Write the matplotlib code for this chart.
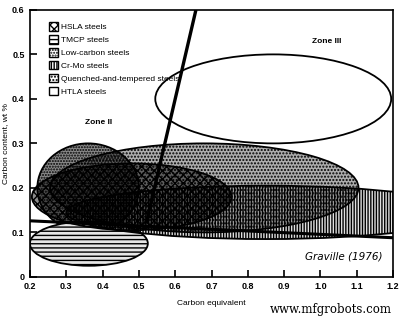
import matplotlib
matplotlib.use("Agg")
import matplotlib.pyplot as plt
from matplotlib.patches import Ellipse, Patch

# steel groups: ellipse centre (CE, C), extent along CE and C
steels = ["HSLA steels", "TMCP steels", "Low-carbon steels", "Cr-Mo steels",
          "Quenched-and-tempered steels", "HTLA steels"]
ce_center = [0.48, 0.362, 0.36, 0.85, 0.68, 0.87]
c_center = [0.18, 0.075, 0.20, 0.145, 0.20, 0.40]
ce_width = [0.55, 0.325, 0.28, 1.10, 0.85, 0.65]
c_height = [0.15, 0.10, 0.20, 0.12, 0.20, 0.20]

# zone boundaries (Graville)
bound_h_ce = [0.2, 1.2]
bound_h_c = [0.126, 0.088]
bound_s_ce = [0.52, 0.657]
bound_s_c = [0.12, 0.60]

x_ticks = [0.2, 0.3, 0.4, 0.5, 0.6, 0.7, 0.8, 0.9, 1.0, 1.1, 1.2]
y_ticks = [0, 0.1, 0.2, 0.3, 0.4, 0.5, 0.6]

STYLE = {
    "HSLA steels": dict(hatch="xxxx", fc=(0, 0, 0, 0.45), z=5),
    "TMCP steels": dict(hatch="----", fc=(0.9, 0.9, 0.9, 1), z=2),
    "Low-carbon steels": dict(hatch="......", fc="#8a8a8a", z=1),
    "Cr-Mo steels": dict(hatch="||||||", fc=(0, 0, 0, 0.12), z=3),
    "Quenched-and-tempered steels": dict(hatch=".....", fc=(0, 0, 0, 0.32), z=4),
    "HTLA steels": dict(hatch=None, fc="none", z=6),
}

plt.rcParams.update({
    "font.family": ["Liberation Sans", "DejaVu Sans"],
    "font.size": 6.5,
    "hatch.linewidth": 1.0,
    "hatch.color": "black",
})

fig = plt.figure(figsize=(4.01, 3.19), dpi=100)
ax = fig.add_axes([0.075, 0.132, 0.905, 0.837])

order = [2, 1, 3, 4, 0, 5]
for i in order:
    st = STYLE[steels[i]]
    e = Ellipse((ce_center[i], c_center[i]), ce_width[i], c_height[i],
                facecolor=st["fc"], edgecolor="black", hatch=st["hatch"],
                linewidth=1.3, zorder=st["z"])
    ax.add_patch(e)

ax.plot(bound_h_ce, bound_h_c, color="black", lw=2.2, zorder=7, solid_capstyle="butt")
ax.plot(bound_s_ce, bound_s_c, color="black", lw=2.4, zorder=7, solid_capstyle="butt")

ax.set_xlim(0.2, 1.2)
ax.set_ylim(0, 0.6)
ax.set_xticks(x_ticks)
ax.set_xticklabels(["0.2", "0.3", "0.4", "0.5", "0.6", "0.7", "0.8", "0.9", "1.0", "1.1", "1.2"],
                   fontweight="bold")
ax.set_yticks(y_ticks)
ax.set_yticklabels(["0", "0.1", "0.2", "0.3", "0.4", "0.5", "0.6"], fontweight="bold")
ax.tick_params(direction="in", length=5, width=1.2, labelsize=6.5, pad=4)
for sp in ax.spines.values():
    sp.set_linewidth(1.2)

ax.set_xlabel("Carbon equivalent", fontsize=6, labelpad=6)
ax.set_ylabel("Carbon content, wt %", fontsize=6, labelpad=2)

ax.text(0.39, 0.346, "Zone II", fontsize=6, ha="center", va="center", fontweight="bold", zorder=8)
ax.text(1.016, 0.528, "Zone III", fontsize=6, ha="center", va="center", fontweight="bold", zorder=8)
ax.text(1.063, 0.045, "Graville (1976)", fontsize=7.5, style="italic", ha="center", va="center",
        family="DejaVu Sans", zorder=8)

handles = []
for name in steels:
    st = STYLE[name]
    handles.append(Patch(facecolor="white", edgecolor="black", hatch=st["hatch"], linewidth=1.0))
leg = ax.legend(handles, steels, loc="upper left", bbox_to_anchor=(0.035, 0.975), frameon=False,
                fontsize=6, handlelength=1.1, handleheight=1.2, handletextpad=0.4,
                labelspacing=0.45, borderaxespad=0.3)
leg.set_zorder(9)

fig.text(0.826, 0.03, "www.mfgrobots.com", fontsize=8.5, family="DejaVu Serif", ha="center", va="center")

fig.savefig("out.png", dpi=100)
